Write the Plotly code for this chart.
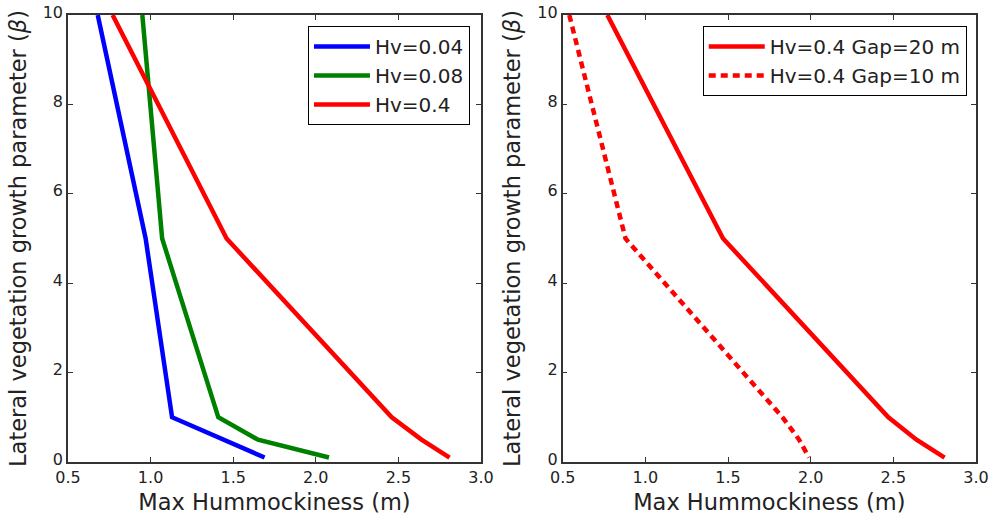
import plotly.graph_objects as go

# ---- data ----
beta = [10, 5, 1, 0.5, 0.1]
hv004 = [0.68, 0.97, 1.13, 1.44, 1.69]
hv008 = [0.95, 1.07, 1.41, 1.65, 2.08]
hv04 = [0.77, 1.46, 2.46, 2.64, 2.81]
gap20 = [0.77, 1.47, 2.47, 2.64, 2.81]
gap10 = [0.54, 0.88, 1.83, 1.93, 1.99]

x_tick_vals = [0.5, 1.0, 1.5, 2.0, 2.5, 3.0]
y_tick_vals = [0, 2, 4, 6, 8, 10]

FONT = "DejaVu Sans"
LW = 4.5
TXT = "#222222"

fig = go.Figure()

fig.add_trace(go.Scatter(x=hv004, y=beta, mode="lines", name="Hv=0.04",
                         line=dict(color="#0000ff", width=LW),
                         xaxis="x", yaxis="y", legend="legend", legendgroup="a"))
fig.add_trace(go.Scatter(x=hv008, y=beta, mode="lines", name="Hv=0.08",
                         line=dict(color="#008000", width=LW),
                         xaxis="x", yaxis="y", legend="legend", legendgroup="b"))
fig.add_trace(go.Scatter(x=hv04, y=beta, mode="lines", name="Hv=0.4",
                         line=dict(color="#ff0000", width=LW),
                         xaxis="x", yaxis="y", legend="legend", legendgroup="c"))

fig.add_trace(go.Scatter(x=gap20, y=beta, mode="lines", name="Hv=0.4 Gap=20 m",
                         line=dict(color="#ff0000", width=LW),
                         xaxis="x2", yaxis="y2", legend="legend2", legendgroup="d"))
fig.add_trace(go.Scatter(x=gap10, y=beta, mode="lines", name="Hv=0.4 Gap=10 m",
                         line=dict(color="#ff0000", width=LW, dash="7px,5px"),
                         xaxis="x2", yaxis="y2", legend="legend2", legendgroup="e"))

axis_common = dict(
    showline=True, linecolor="#333333", linewidth=1.5, mirror="allticks",
    ticks="inside", ticklen=5, tickwidth=1, tickcolor="#333333",
    showgrid=False, zeroline=False, automargin=False,
    tickfont=dict(family=FONT, size=16, color=TXT),
)

xtitle = dict(text="Max Hummockiness (m)", font=dict(family=FONT, size=22.5, color=TXT), standoff=8)
ytitle = dict(text="Lateral vegetation growth parameter (<i>β</i>)",
              font=dict(family=FONT, size=22.5, color=TXT), standoff=10)

legend_common = dict(
    xanchor="right", yanchor="top",
    bordercolor="#000000", borderwidth=1, bgcolor="white",
    font=dict(family=FONT, size=20, color=TXT),
    tracegroupgap=0, itemwidth=56,
)

fig.update_layout(
    width=989, height=518,
    margin=dict(l=68, r=13, t=15, b=56),
    paper_bgcolor="white", plot_bgcolor="white",
    font=dict(family=FONT, color=TXT),
    xaxis=dict(domain=[0, 0.4548], range=[0.5, 3.0], tickvals=x_tick_vals,
               tickformat=".1f", title=xtitle, anchor="y", **axis_common),
    yaxis=dict(domain=[0, 1], range=[0, 10], tickvals=y_tick_vals, ticklabelshift=-3,
               title=ytitle, anchor="x", **axis_common),
    xaxis2=dict(domain=[0.5448, 1], range=[0.5, 3.0], tickvals=x_tick_vals,
                tickformat=".1f", title=xtitle, anchor="y2", **axis_common),
    yaxis2=dict(domain=[0, 1], range=[0, 10], tickvals=y_tick_vals, ticklabelshift=-3,
                title=ytitle, anchor="x2", **axis_common),
    legend=dict(x=0.4427, y=0.9754, **legend_common),
    legend2=dict(x=0.9898, y=0.9754, **legend_common),
    showlegend=True,
)

# remove the default 8px page margin so the 989x518 figure fills the window exactly
fig.write_html("out.html", config={"displayModeBar": False},
               post_script="document.body.style.margin='0';")
